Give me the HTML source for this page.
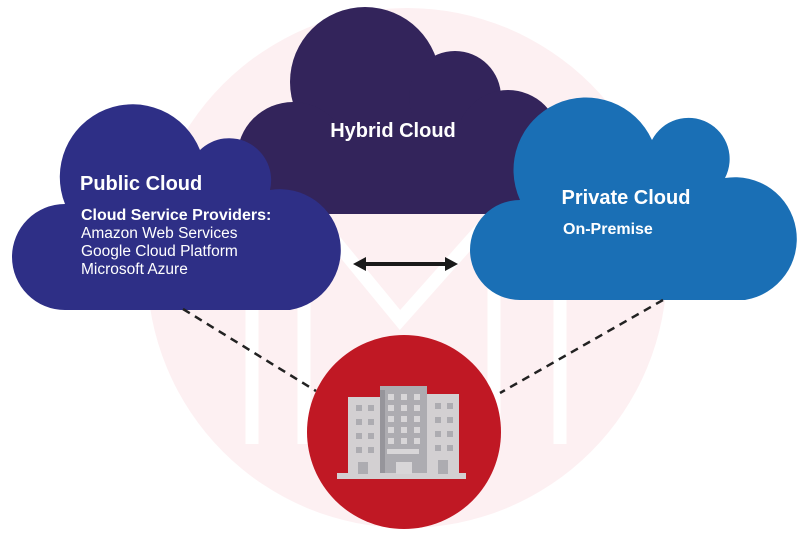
<!DOCTYPE html>
<html><head><meta charset="utf-8"><style>
html,body{margin:0;padding:0;background:#fff;}
svg{display:block;}
text{font-family:"Liberation Sans",sans-serif;fill:#fff;font-weight:bold;}
text.n{font-weight:normal;}
</style></head><body>
<svg width="812" height="540" viewBox="0 0 812 540" xmlns="http://www.w3.org/2000/svg">
<circle cx="407" cy="268" r="260" fill="#fdf0f2"/>
<g stroke="#fff" stroke-width="13" fill="none" stroke-linecap="butt">
<line x1="252" y1="140" x2="252" y2="444"/>
<line x1="304" y1="240" x2="304" y2="444"/>
<line x1="494" y1="240" x2="494" y2="444"/>
<line x1="560" y1="140" x2="560" y2="444"/>
<polyline points="252,140 400,320 560,140"/>
</g>
<g fill="#33245b">
<circle cx="365" cy="82" r="75"/>
<circle cx="455" cy="97" r="46"/>
<circle cx="508" cy="142" r="52"/>
<circle cx="293" cy="158" r="56"/>
<rect x="293" y="120" width="215" height="94"/>
<rect x="240" y="158" width="320" height="56"/>
</g>
<text x="393" y="137" font-size="20" text-anchor="middle">Hybrid Cloud</text>
<path fill="#2e2f86" d="M65 310 A52 52 0 0 1 65 204 A68 68 0 0 1 200 150 A42 42 0 0 1 270 190 A57 57 0 0 1 290 310 Z"/>
<text x="80" y="190" font-size="20">Public Cloud</text>
<text x="81" y="220" font-size="16">Cloud Service Providers:</text>
<text class="n" x="81" y="238" font-size="15.5">Amazon Web Services</text>
<text class="n" x="81" y="256" font-size="15.5">Google Cloud Platform</text>
<text class="n" x="81" y="274" font-size="15.5">Microsoft Azure</text>
<path fill="#1a6fb5" d="M520 300 A50 50 0 0 1 520 200 A65 65 0 0 1 652 140 A40 40 0 0 1 725 178 A58 58 0 0 1 745 300 Z"/>
<text x="626" y="204" font-size="20" text-anchor="middle">Private Cloud</text>
<text x="563" y="234" font-size="16">On-Premise</text>
<line x1="362" y1="264" x2="449" y2="264" stroke="#1a1a1a" stroke-width="4"/>
<polygon points="353,264 366,257 366,271" fill="#1a1a1a"/>
<polygon points="458,264 445,257 445,271" fill="#1a1a1a"/>
<g stroke="#222" stroke-width="2.5" stroke-dasharray="8,6">
<line x1="183" y1="309" x2="316" y2="391"/>
<line x1="663" y1="300" x2="500" y2="393"/>
</g>
<circle cx="404" cy="432" r="97" fill="#c01824"/>
<g>
<rect x="348" y="397" width="33" height="77" fill="#d3d0d2"/>
<rect x="380" y="386" width="47" height="88" fill="#adacb1"/>
<rect x="380" y="390" width="5" height="84" fill="#96959b"/>
<rect x="427" y="394" width="32" height="80" fill="#d3d0d2"/>
<rect x="337" y="473" width="129" height="6" fill="#d3d0d2"/>
<g fill="#adacb1">
<rect x="356" y="405" width="6" height="6"/><rect x="368" y="405" width="6" height="6"/>
<rect x="356" y="419" width="6" height="6"/><rect x="368" y="419" width="6" height="6"/>
<rect x="356" y="433" width="6" height="6"/><rect x="368" y="433" width="6" height="6"/>
<rect x="356" y="447" width="6" height="6"/><rect x="368" y="447" width="6" height="6"/>
<rect x="358" y="462" width="10" height="12"/>
<rect x="435" y="403" width="6" height="6"/><rect x="447" y="403" width="6" height="6"/>
<rect x="435" y="417" width="6" height="6"/><rect x="447" y="417" width="6" height="6"/>
<rect x="435" y="431" width="6" height="6"/><rect x="447" y="431" width="6" height="6"/>
<rect x="435" y="445" width="6" height="6"/><rect x="447" y="445" width="6" height="6"/>
<rect x="438" y="460" width="10" height="14"/>
</g>
<g fill="#d8d6d8">
<rect x="388" y="394" width="6" height="6"/><rect x="401" y="394" width="6" height="6"/><rect x="414" y="394" width="6" height="6"/>
<rect x="388" y="405" width="6" height="6"/><rect x="401" y="405" width="6" height="6"/><rect x="414" y="405" width="6" height="6"/>
<rect x="388" y="416" width="6" height="6"/><rect x="401" y="416" width="6" height="6"/><rect x="414" y="416" width="6" height="6"/>
<rect x="388" y="427" width="6" height="6"/><rect x="401" y="427" width="6" height="6"/><rect x="414" y="427" width="6" height="6"/>
<rect x="388" y="438" width="6" height="6"/><rect x="401" y="438" width="6" height="6"/><rect x="414" y="438" width="6" height="6"/>
<rect x="387" y="449" width="32" height="5"/>
<rect x="396" y="462" width="16" height="12"/>
</g>
</g>
</svg>
</body></html>
